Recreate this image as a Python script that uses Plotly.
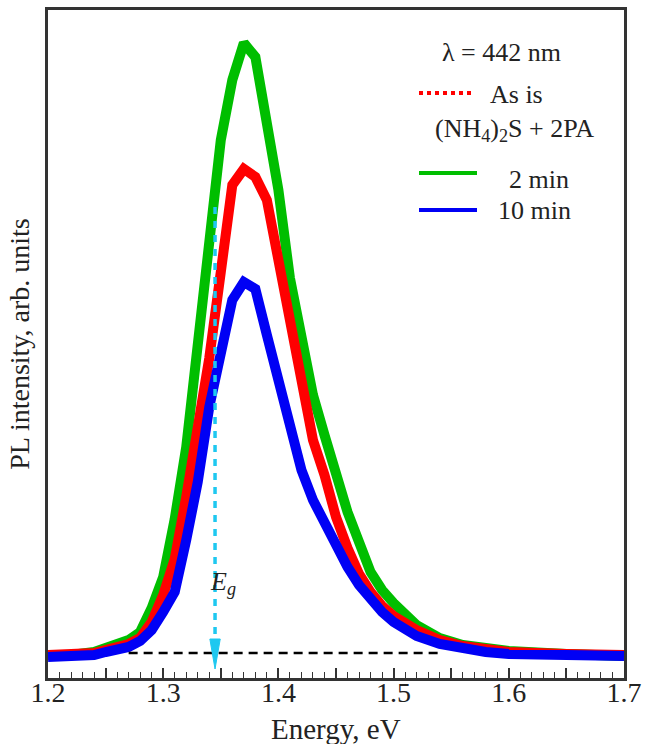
import plotly.graph_objects as go

# Photon energy grid (eV)
energy = [1.20, 1.22, 1.24, 1.25, 1.26, 1.27, 1.28, 1.29, 1.30, 1.31, 1.32, 1.33, 1.34,
          1.35, 1.36, 1.37, 1.38, 1.39, 1.40, 1.41, 1.42, 1.43, 1.44, 1.45, 1.46, 1.47,
          1.48, 1.49, 1.50, 1.52, 1.54, 1.56, 1.58, 1.60, 1.65, 1.70]

# PL intensity (arb. units)
as_is = [0, 0, 2, 5, 7, 11, 17, 33, 60, 96, 158, 227, 297,
         383, 470, 486, 478, 455, 397, 335, 275, 215, 180, 138, 107, 81,
         63, 49, 39, 25, 15, 9, 6, 3, 1, 0]
min2 = [0, 0, 3, 7, 10, 15, 23, 47, 78, 136, 208, 310, 403,
        515, 575, 612, 598, 535, 465, 377, 315, 260, 220, 177, 143, 113,
        83, 65, 52, 30, 17, 10, 7, 4, 1, -1]
min10 = [-2, -2, 0, 3, 5, 8, 14, 25, 43, 63, 115, 173, 248,
         305, 355, 373, 366, 320, 273, 225, 185, 155, 132, 110, 88, 70,
         55, 43, 33, 19, 11, 6, 3, 1, -1, -1]

x_ticks = [1.2, 1.3, 1.4, 1.5, 1.6, 1.7]
eg_energy = 1.345
baseline_level = 2
baseline_span = [1.27, 1.542]

GREEN = "#00be00"
RED = "#ff0000"
BLUE = "#0000f5"
CYAN = "#1ec8f0"
FONT = "Liberation Serif"
TXT = "#222"

fig = go.Figure()
fig.add_trace(go.Scatter(x=energy, y=min2, mode="lines", line=dict(color=GREEN, width=10), showlegend=False))
fig.add_trace(go.Scatter(x=energy, y=as_is, mode="lines", line=dict(color=RED, width=10), showlegend=False))
fig.add_trace(go.Scatter(x=energy, y=min10, mode="lines", line=dict(color=BLUE, width=10), showlegend=False))

# baseline
fig.add_shape(type="line", xref="x", yref="y", x0=baseline_span[0], x1=baseline_span[1],
              y0=baseline_level, y1=baseline_level, line=dict(color="black", width=2.5, dash="9px,6px"))
# Eg arrow
fig.add_shape(type="line", xref="x", yref="y", x0=eg_energy, x1=eg_energy, y0=448, y1=10,
              line=dict(color=CYAN, width=3.5, dash="7px,7px"))
fig.add_shape(type="path", xref="x", yref="y",
              path=f"M {eg_energy-0.0045},16 L {eg_energy+0.0045},16 L {eg_energy},-14 Z",
              fillcolor=CYAN, line=dict(color=CYAN, width=1))
fig.add_annotation(x=1.352, y=72, xref="x", yref="y", text="<i>E</i><sub><i>g</i></sub>", showarrow=False,
                   xanchor="center", yanchor="middle", font=dict(family=FONT, size=26, color=TXT))

# legend (drawn manually)
def px2paper(px, py):
    return (px - 48) / 576, (678 - py) / 668

lx0, _ = px2paper(419, 0)
lx1r, _ = px2paper(472, 0)
lx1, _ = px2paper(477, 0)
_, yr = px2paper(0, 93)
_, yg = px2paper(0, 173)
_, yb = px2paper(0, 210)
fig.add_shape(type="line", xref="paper", yref="paper", x0=lx0, x1=lx1r, y0=yr, y1=yr,
              line=dict(color=RED, width=4, dash="dot"))
fig.add_shape(type="line", xref="paper", yref="paper", x0=lx0, x1=lx1, y0=yg, y1=yg,
              line=dict(color=GREEN, width=4))
fig.add_shape(type="line", xref="paper", yref="paper", x0=lx0, x1=lx1, y0=yb, y1=yb,
              line=dict(color=BLUE, width=4))

tf = dict(family=FONT, size=26, color=TXT)
def label(px, py, text, anchor, font=tf):
    x, y = px2paper(px, py)
    fig.add_annotation(x=x, y=y, xref="paper", yref="paper", text=text, showarrow=False,
                       font=font, xanchor=anchor, yanchor="middle")

label(501, 53, "λ = 442 nm", "center")
label(488, 95, "As is", "left")
label(514, 130, "(NH<sub>4</sub>)<sub>2</sub>S + 2PA", "center")
label(507, 180, "2 min", "left")
label(496, 210, "10 min", "left")
# x-axis title
label(336, 729, "Energy, eV", "center", dict(family=FONT, size=29, color=TXT))

axis_line = dict(showline=True, linecolor="#333", linewidth=2.5, mirror=True, showgrid=False, zeroline=False)
fig.update_layout(
    width=653, height=744,
    margin=dict(l=48, r=29, t=10, b=66, autoexpand=False),
    plot_bgcolor="white", paper_bgcolor="white",
    font=dict(family=FONT, size=28, color=TXT),
    xaxis=dict(range=[1.2, 1.7], tickvals=x_ticks, ticktext=[f"{v:.1f}" for v in x_ticks],
               ticks="inside", ticklen=10, tickwidth=1.5, tickcolor="#333", ticklabelstandoff=-12,
               minor=dict(dtick=0.01, tick0=1.2, ticks="inside", ticklen=6, tickwidth=1.2, tickcolor="#333"),
               tickfont=dict(size=28), automargin=False, **axis_line),
    xaxis2=dict(range=[1.2, 1.7], overlaying="x", matches="x", side="bottom", dtick=0.05, tick0=1.2,
                ticks="inside", ticklen=10, tickwidth=1.5, tickcolor="#333", showticklabels=False,
                showgrid=False, zeroline=False, showline=False),
    yaxis=dict(range=[-23, 645], showticklabels=False, ticks="", automargin=False,
               title=dict(text="PL intensity, arb. units", standoff=8, font=dict(size=28)), **axis_line),
)
fig.add_trace(go.Scatter(x=[1.2], y=[-100], xaxis="x2", yaxis="y", mode="markers", showlegend=False,
                         hoverinfo="skip", marker=dict(opacity=0)))
fig.write_html("out.html", post_script="document.body.style.margin='0';",
               config={"displayModeBar": False})
